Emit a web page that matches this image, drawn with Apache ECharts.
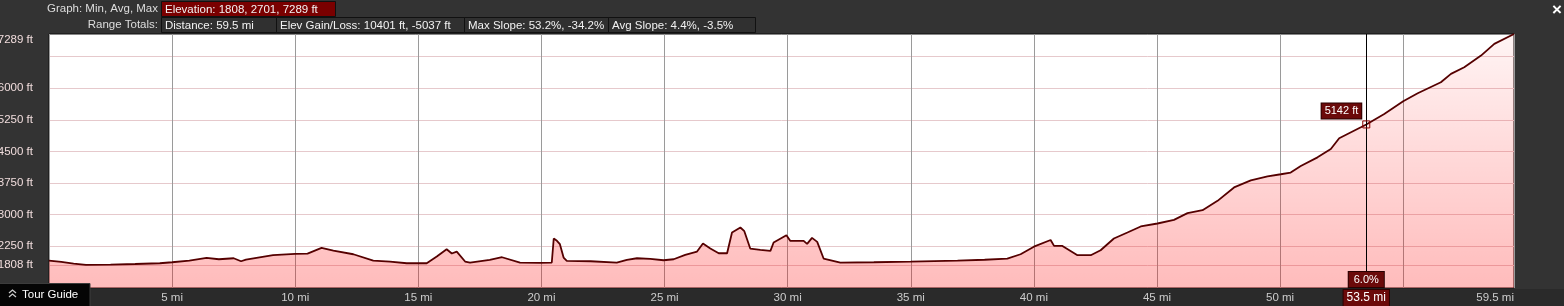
<!DOCTYPE html>
<html>
<head>
<meta charset="utf-8">
<script src="https://cdn.jsdelivr.net/npm/echarts@6/dist/echarts.min.js"></script>
<style>
html,body{margin:0;padding:0;background:#333333;overflow:hidden;}
#c{width:1564px;height:306px;}
</style>
</head>
<body>
<div id="c"></div>
<script>
// ---- data ----
const distMi = [0,0.5,1.0,1.5,2.5,3.5,4.5,5.0,5.7,6.4,6.9,7.5,7.8,8.0,9.1,10.0,10.5,11.07,11.55,12.36,13.17,13.85,14.53,15.34,15.75,16.15,16.36,16.56,16.9,17.1,17.9,18.4,19.13,19.95,20.42,20.5,20.63,20.75,20.9,21.03,22.0,23.06,23.47,23.88,24.42,24.96,25.37,25.84,26.32,26.56,26.86,27.2,27.54,27.74,28.08,28.24,28.48,28.89,29.3,29.43,29.95,30.11,30.65,30.79,30.99,31.2,31.46,32.14,33.5,35.0,36.9,38.0,38.92,39.46,40.0,40.68,40.82,41.16,41.77,42.31,42.71,43.25,43.8,44.34,45.02,45.69,46.24,46.85,47.46,48.13,48.81,49.49,50.03,50.43,50.84,51.52,52.06,52.4,52.74,53.28,53.5,54.23,55.0,55.59,56.53,56.94,57.48,58.16,58.7,59.5];
const elevFt = [1912,1880,1840,1808,1816,1830,1847,1871,1912,1973,1942,1966,1895,1935,2038,2069,2077,2211,2149,2061,1912,1888,1847,1847,2006,2180,2078,2125,1888,1864,1926,1990,1864,1855,1864,2435,2380,2300,1982,1902,1895,1864,1926,1966,1950,1919,1942,2045,2125,2316,2197,2085,2085,2577,2696,2608,2197,2164,2140,2340,2513,2378,2378,2306,2449,2354,1959,1864,1871,1888,1912,1930,1959,2061,2240,2400,2259,2259,2038,2038,2156,2435,2577,2720,2791,2877,3036,3108,3329,3647,3815,3909,3960,4000,4155,4361,4558,4813,4915,5074,5142,5391,5692,5883,6144,6342,6501,6777,7055,7289];
const yLabelValues = [1808,2250,3000,3750,4500,5250,6000,7289];
const yGridValues = [1808,2250,3000,3750,4500,5250,6000,6750];
const xLabelValues = [5,10,15,20,25,30,35,40,45,50,59.5];
const elevStats = {min:1808, avg:2701, max:7289};
const distanceTotal = 59.5;
const gainLoss = [10401, -5037];
const maxSlope = [53.2, -34.2];
const avgSlope = [4.4, -3.5];
const cursorMi = 53.5;
const cursorFt = 5142;
const cursorSlope = '6.0%';

const yMin = elevStats.min - 0.1*(elevStats.max - elevStats.min);
const yMax = elevStats.max;

const FONT = 'Liberation Sans, Arial, sans-serif';
const boxLabel = {
  color:'#ffffff', fontSize:11, fontFamily:FONT,
  backgroundColor:'#6b0a0a', borderColor:'#2a0000', borderWidth:1,
  padding:[2,3,2,3]
};

const chart = echarts.init(document.getElementById('c'));

function hdrText(x, y, txt, align){
  return {type:'text', x:x, y:y, silent:true,
    style:{text:txt, fill:'#dddddd', font:'11.5px '+FONT, textAlign:align||'left', textVerticalAlign:'middle'}};
}
function hdrBox(x, y, w, txt, bg){
  return [
    {type:'rect', shape:{x:x+0.5, y:y+0.5, width:w, height:15}, silent:true,
      style:{fill:bg, stroke:'#111111', lineWidth:1}},
    {type:'text', x:x+4, y:y+8.5, silent:true,
      style:{text:txt, fill:'#f2f2f2', font:'11.5px '+FONT, textVerticalAlign:'middle'}}
  ];
}

const graphics = [].concat(
  [{type:'rect', shape:{x:0, y:289, width:1564, height:17}, silent:true, z:-10, style:{fill:'#2a2a2a'}}],
  [hdrText(158, 9, 'Graph: Min, Avg, Max', 'right')],
  hdrBox(161, 1, 174, 'Elevation: '+elevStats.min+', '+elevStats.avg+', '+elevStats.max+' ft', '#7a0000'),
  [hdrText(158, 25, 'Range Totals:', 'right')],
  hdrBox(161, 17, 115, 'Distance: '+distanceTotal+' mi', '#303030'),
  hdrBox(276, 17, 188, 'Elev Gain/Loss: '+gainLoss[0]+' ft, '+gainLoss[1]+' ft', '#303030'),
  hdrBox(464, 17, 144, 'Max Slope: '+maxSlope[0]+'%, '+maxSlope[1]+'%', '#303030'),
  hdrBox(608, 17, 147, 'Avg Slope: '+avgSlope[0]+'%, '+avgSlope[1]+'%', '#303030'),
  [
    {type:'rect', shape:{x:-1, y:283.5, width:91, height:24}, silent:true, z:100,
      style:{fill:'#050505', stroke:'#3c3c3c', lineWidth:1}},
    {type:'polyline', shape:{points:[[9,293],[12.5,290],[16,293]]}, silent:true, z:101,
      style:{stroke:'#cccccc', lineWidth:1.3, fill:null}},
    {type:'polyline', shape:{points:[[9,297],[12.5,294],[16,297]]}, silent:true, z:101,
      style:{stroke:'#cccccc', lineWidth:1.3, fill:null}},
    {type:'text', x:22, y:295, silent:true, z:101,
      style:{text:'Tour Guide', fill:'#ffffff', font:'11.5px '+FONT, textVerticalAlign:'middle'}},
    {type:'text', x:1557, y:10, silent:true,
      style:{text:'×', fill:'#ffffff', font:'bold 17px '+FONT, textAlign:'center', textVerticalAlign:'middle'}}
  ]
);

chart.setOption({
  backgroundColor:'#333333',
  animation:false,
  grid:{left:49, top:34, width:1465, height:254, outerBoundsMode:'none', containLabel:false,
    show:true, backgroundColor:'#ffffff', borderColor:'#111111', borderWidth:1},
  xAxis:{
    type:'value', min:0, max:distanceTotal, interval:5,
    axisLine:{show:false}, axisTick:{show:false},
    splitLine:{show:true, lineStyle:{color:'#9a9a9a', width:1}},
    axisLabel:{
      customValues:xLabelValues,
      margin:4, color:'#cccccc', fontSize:11.5, fontFamily:FONT,
      alignMaxLabel:'right',
      formatter:v => v + ' mi'
    }
  },
  yAxis:{
    type:'value', min:yMin, max:yMax,
    axisLine:{show:false},
    axisTick:{show:false, customValues:yGridValues},
    splitLine:{show:true, lineStyle:{color:'#e6c9cc', width:1}},
    axisLabel:{
      customValues:yLabelValues,
      margin:16, color:'#f0dcdc', fontSize:11.5, fontFamily:FONT,
      formatter:v => (v === yMax ? '{top|' + v + ' ft}' : v + ' ft'),
      rich:{top:{color:'#f0dcdc', fontSize:11.5, fontFamily:FONT, padding:[12,0,0,0]}}
    }
  },
  series:[{
    type:'line',
    data:distMi.map((d,i)=>[d, elevFt[i]]),
    showSymbol:false, symbol:'none', clip:false,
    lineStyle:{color:'#550000', width:1.8},
    areaStyle:{color:{type:'linear', x:0, y:0, x2:0, y2:1, colorStops:[
      {offset:0, color:'rgba(255,0,0,0.06)'},
      {offset:1, color:'rgba(255,0,0,0.38)'}
    ]}},
    markLine:{
      silent:true, symbol:'none', animation:false,
      lineStyle:{color:'#000000', width:1, type:'solid'},
      label:{show:false},
      data:[{xAxis:cursorMi}]
    },
    markPoint:{
      silent:true, animation:false,
      data:[
        {coord:[cursorMi, cursorFt], symbol:'rect', symbolSize:7,
          itemStyle:{color:'rgba(0,0,0,0)', borderColor:'#8a0000', borderWidth:1},
          label:Object.assign({show:true, formatter:cursorFt+' ft', position:[-1,-2], align:'right', verticalAlign:'bottom'}, boxLabel)},
        {coord:[cursorMi, yMin], symbol:'rect', symbolSize:0,
          label:Object.assign({show:true, formatter:cursorSlope, position:'top', distance:1}, boxLabel, {padding:[2,5,2,5]})},
        {coord:[cursorMi, yMin], symbol:'rect', symbolSize:0,
          label:Object.assign({show:true, formatter:cursorMi+' mi', position:'bottom', distance:2}, boxLabel, {fontSize:12})}
      ]
    }
  }],
  graphic:graphics
});
</script>
</body>
</html>
